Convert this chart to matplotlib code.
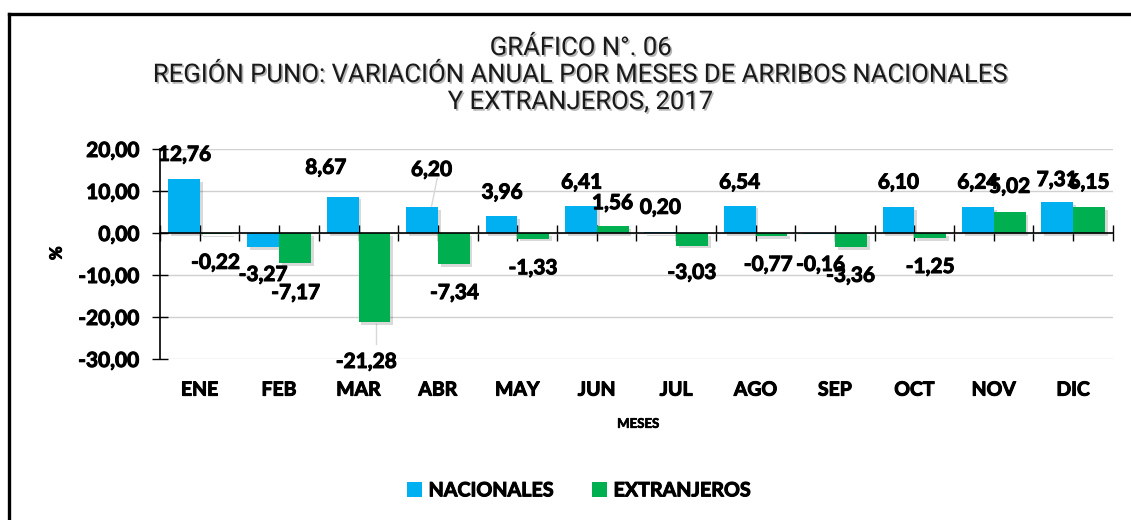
import os
import matplotlib
matplotlib.use("Agg")
import matplotlib.pyplot as plt
import matplotlib.patheffects as pe
from matplotlib.lines import Line2D
from matplotlib.patches import Patch
from matplotlib import font_manager as fm
import numpy as np

months = ["ENE", "FEB", "MAR", "ABR", "MAY", "JUN", "JUL", "AGO", "SEP", "OCT", "NOV", "DIC"]
nacionales = [12.76, -3.27, 8.67, 6.20, 3.96, 6.41, 0.20, 6.54, -0.16, 6.10, 6.24, 7.31]
extranjeros = [-0.22, -7.17, -21.28, -7.34, -1.33, 1.56, -3.03, -0.77, -3.36, -1.25, 5.02, 6.15]
yticks = [20, 10, 0, -10, -20, -30]

# label placement (x offset from month centre, y in data units)
nac_lab_dx = [-0.19, -0.2, -0.41, -0.08, -0.19, -0.19, -0.2, -0.2, -0.18, -0.2, -0.2, -0.2]
nac_lab_y = [18.6, -10.0, 15.5, 15.0, 9.6, 12.0, 6.0, 12.0, -7.6, 12.0, 12.0, 12.6]
ext_lab_dx = [0.2, 0.21, 0.1, 0.21, 0.2, 0.2, 0.2, 0.16, 0.2, 0.2, 0.2, 0.2]
ext_lab_y = [-7.1, -14.3, -30.7, -14.3, -8.4, 7.1, -9.5, -7.6, -10.2, -8.1, 11.0, 12.0]


def find_bold():
    files = [f.fname for f in fm.fontManager.ttflist]
    for key in ["Lato-Bold.", "NotoSans-Bold.", "LiberationSans-Bold.", "DejaVuSans-Bold."]:
        for fn in files:
            if os.path.basename(fn).startswith(key):
                return fn
    return None


bold_file = find_bold()
heavy = [pe.withStroke(linewidth=0.75, foreground="black")]


def bp(size):
    if bold_file:
        return fm.FontProperties(fname=bold_file, size=size)
    return fm.FontProperties(family="DejaVu Sans", weight="bold", size=size)


names = {f.name for f in fm.fontManager.ttflist}
title_font = "Roboto" if "Roboto" in names else "DejaVu Sans"


def fmt(v):
    return f"{v:.2f}".replace(".", ",")


BLUE = "#00B0F0"
GREEN = "#00B050"

fig = plt.figure(figsize=(11.31, 5.2), dpi=100)
ax = fig.add_axes([0.1415, 0.3096, 0.8425, 0.4039])

x = np.arange(len(months))
w = 0.4
shadow = [pe.SimplePatchShadow(offset=(2, -2), alpha=0.15, shadow_rgbFace="black"), pe.Normal()]
b1 = ax.bar(x - w / 2, nacionales, w, color=BLUE, zorder=3)
b2 = ax.bar(x + w / 2, extranjeros, w, color=GREEN, zorder=3)
for b in list(b1) + list(b2):
    b.set_path_effects(shadow)

ax.set_xlim(-0.5, len(months) - 0.5)
ax.set_ylim(-30, 20)
ax.set_yticks(yticks)
ax.set_yticklabels([fmt(v) for v in yticks])
for t in ax.get_yticklabels():
    t.set_fontproperties(bp(15))
    t.set_path_effects(heavy)
ax.yaxis.grid(True, color="#d0d0d0", linewidth=1.0, zorder=0)
ax.set_axisbelow(True)

for s in ["top", "right"]:
    ax.spines[s].set_visible(False)
ax.spines["left"].set_color("black")
ax.spines["left"].set_linewidth(1.2)
ax.spines["bottom"].set_position(("data", 0))
ax.spines["bottom"].set_color("black")
ax.spines["bottom"].set_linewidth(1.2)
ax.spines["bottom"].set_zorder(4)

ax.set_xticks(np.arange(-0.5, len(months), 0.5))
ax.set_xticklabels([])
ax.tick_params(axis="x", direction="inout", length=12, width=1.0, color="black")
ax.tick_params(axis="y", direction="inout", length=12, width=1.0, color="black", pad=9)

trans = ax.get_xaxis_transform()
for i, m in enumerate(months):
    ax.text(i, -0.148, m, transform=trans, ha="center", va="center", fontproperties=bp(14),
            path_effects=heavy)

for i in range(len(months)):
    ax.text(i + nac_lab_dx[i], nac_lab_y[i], fmt(nacionales[i]), ha="center", va="center",
            fontproperties=bp(15), zorder=5, clip_on=False, path_effects=heavy)
    ax.text(i + ext_lab_dx[i], ext_lab_y[i], fmt(extranjeros[i]), ha="center", va="center",
            fontproperties=bp(15), zorder=5, clip_on=False, path_effects=heavy)

# leader lines
ax.plot([2.22, 2.22], [extranjeros[2] - 0.3, -26.5], color="#d8d8d8", lw=1.0, zorder=2)
ax.plot([2.92, 2.99], [nacionales[3] + 0.2, 13.0], color="#d8d8d8", lw=1.0, zorder=2)

fig.text(0.05, 0.513, "%", rotation=90, ha="center", va="center", fontproperties=bp(12),
         path_effects=heavy)
fig.text(0.5645, 0.185, "MESES", ha="center", va="center", fontproperties=bp(9.5),
         path_effects=[pe.withStroke(linewidth=0.5, foreground="black")])

title_lines = ["GRÁFICO N°. 06",
               "REGIÓN PUNO: VARIACIÓN ANUAL POR MESES DE ARRIBOS NACIONALES",
               "Y EXTRANJEROS, 2017"]
tshadow = [pe.withSimplePatchShadow(offset=(1.2, -1.2), alpha=0.3)]
for k, line in enumerate(title_lines):
    fig.text(0.5135, 1 - (48 + 27 * k) / 520, line, ha="center", va="center",
             fontsize=18.5, family=title_font, color="#1a1a1a", path_effects=tshadow)

handles = [Patch(facecolor=BLUE, edgecolor="none"), Patch(facecolor=GREEN, edgecolor="none")]
leg = fig.legend(handles, ["NACIONALES", "EXTRANJEROS"], loc="center", bbox_to_anchor=(0.512, 0.057),
                 ncol=2, frameon=False, handlelength=0.75, handleheight=0.75, handletextpad=0.35,
                 columnspacing=1.9, prop=bp(14.2))
for t in leg.get_texts():
    t.set_path_effects(heavy)

fig.add_artist(Line2D([9 / 1131, 9 / 1131], [0, 1 - 14 / 520], transform=fig.transFigure,
                      color="black", lw=2.4))
fig.add_artist(Line2D([9 / 1131, 1], [1 - 14 / 520, 1 - 14 / 520], transform=fig.transFigure,
                      color="black", lw=2.4, solid_capstyle="projecting"))

fig.savefig("out.png", dpi=100)
